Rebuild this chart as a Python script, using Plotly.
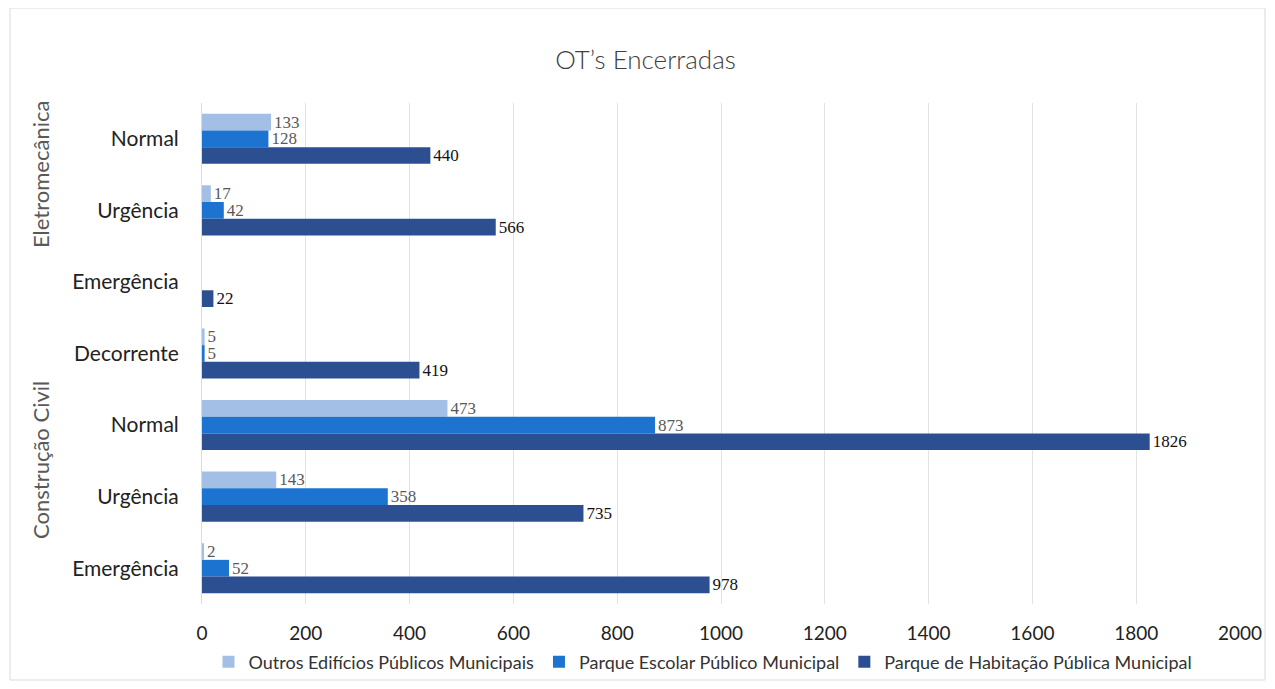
import plotly.graph_objects as go

groups = ["Eletromecânica", "Eletromecânica", "Eletromecânica",
          "Construção Civil", "Construção Civil", "Construção Civil", "Construção Civil"]
labels = ["Normal", "Urgência", "Emergência", "Decorrente", "Normal", "Urgência", "Emergência"]
categories = [g + "|" + l for g, l in zip(groups, labels)]

outros = [133, 17, None, 5, 473, 143, 2]
escolar = [128, 42, None, 5, 873, 358, 52]
habitacao = [440, 566, 22, 419, 1826, 735, 978]

series_names = ["Outros Edifícios Públicos Municipais",
                "Parque Escolar Público Municipal",
                "Parque de Habitação Pública Municipal"]
colors = ["#a3bfe6", "#1c74d0", "#2c4f92"]
label_colors = ["#595959", "#595959", "#111111"]
x_ticks = [0, 200, 400, 600, 800, 1000, 1200, 1400, 1600, 1800, 2000]

# page body offset (8px default margin)
OX, OY = 8, 8
W, H = 1275, 689
L = 202 - OX
R = W - (1240 - OX)
T = 103 - OY
B = H - (604 - OY)
pw = W - L - R
ph = H - T - B


def px(xr):
    return (xr - OX - L) / pw


def py(yr):
    return (H - B - (yr - OY)) / ph


fig = go.Figure()
for name, vals, col, lc in zip(series_names, [outros, escolar, habitacao], colors, label_colors):
    fig.add_trace(go.Bar(
        y=categories, x=vals, orientation="h", name=name,
        marker=dict(color=col, line=dict(width=0)),
        text=[str(v) if v else "" for v in vals],
        textposition="outside", constraintext="none",
        textfont=dict(family="Liberation Serif", size=17, color=lc),
        cliponaxis=False,
    ))

fig.update_layout(
    width=W, height=H,
    margin=dict(l=L, r=R, t=T, b=B, autoexpand=False),
    paper_bgcolor="white", plot_bgcolor="white",
    barmode="group", bargap=0.3, bargroupgap=0,
    title=dict(text="OT’s Encerradas", x=0.5, xanchor="center", y=1 - (60 - OY) / H, yanchor="middle",
               font=dict(family="Lato Light, Lato", size=26, color="#404040")),
    xaxis=dict(range=[0, 2000], tickvals=x_ticks, showgrid=True, gridcolor="#e3e3e3", gridwidth=1,
               zeroline=False, showline=False, ticks="", automargin=False, ticklabelstandoff=16,
               tickfont=dict(family="Lato", size=19, color="#222222")),
    yaxis=dict(type="category", categoryorder="array", categoryarray=categories,
               autorange="reversed", tickvals=categories, ticktext=labels,
               showgrid=False, zeroline=False, showline=True, linecolor="#d0dcf0", ticks="",
               automargin=False, ticklabelstandoff=18,
               tickfont=dict(family="Lato", size=21, color="#222222")),
    legend=dict(orientation="h", x=px(703), xanchor="center", y=py(662), yanchor="middle",
                font=dict(family="Lato", size=18, color="#333333"), itemwidth=30,
                traceorder="normal", bgcolor="rgba(0,0,0,0)"),
    showlegend=True,
)

fig.add_annotation(text="Eletromecânica", textangle=-90, xref="paper", yref="paper",
                   x=px(40), y=py(175), xanchor="center", yanchor="middle",
                   showarrow=False, font=dict(family="Lato", size=22, color="#595959"))
fig.add_annotation(text="Construção Civil", textangle=-90, xref="paper", yref="paper",
                   x=px(40), y=py(460), xanchor="center", yanchor="middle",
                   showarrow=False, font=dict(family="Lato", size=22, color="#595959"))

fig.add_shape(type="rect", xref="paper", yref="paper",
              x0=px(10), x1=px(1265), y0=py(680), y1=py(8),
              line=dict(color="#d9d9d9", width=1), fillcolor="rgba(0,0,0,0)", layer="below")

fig.write_html("out.html")
